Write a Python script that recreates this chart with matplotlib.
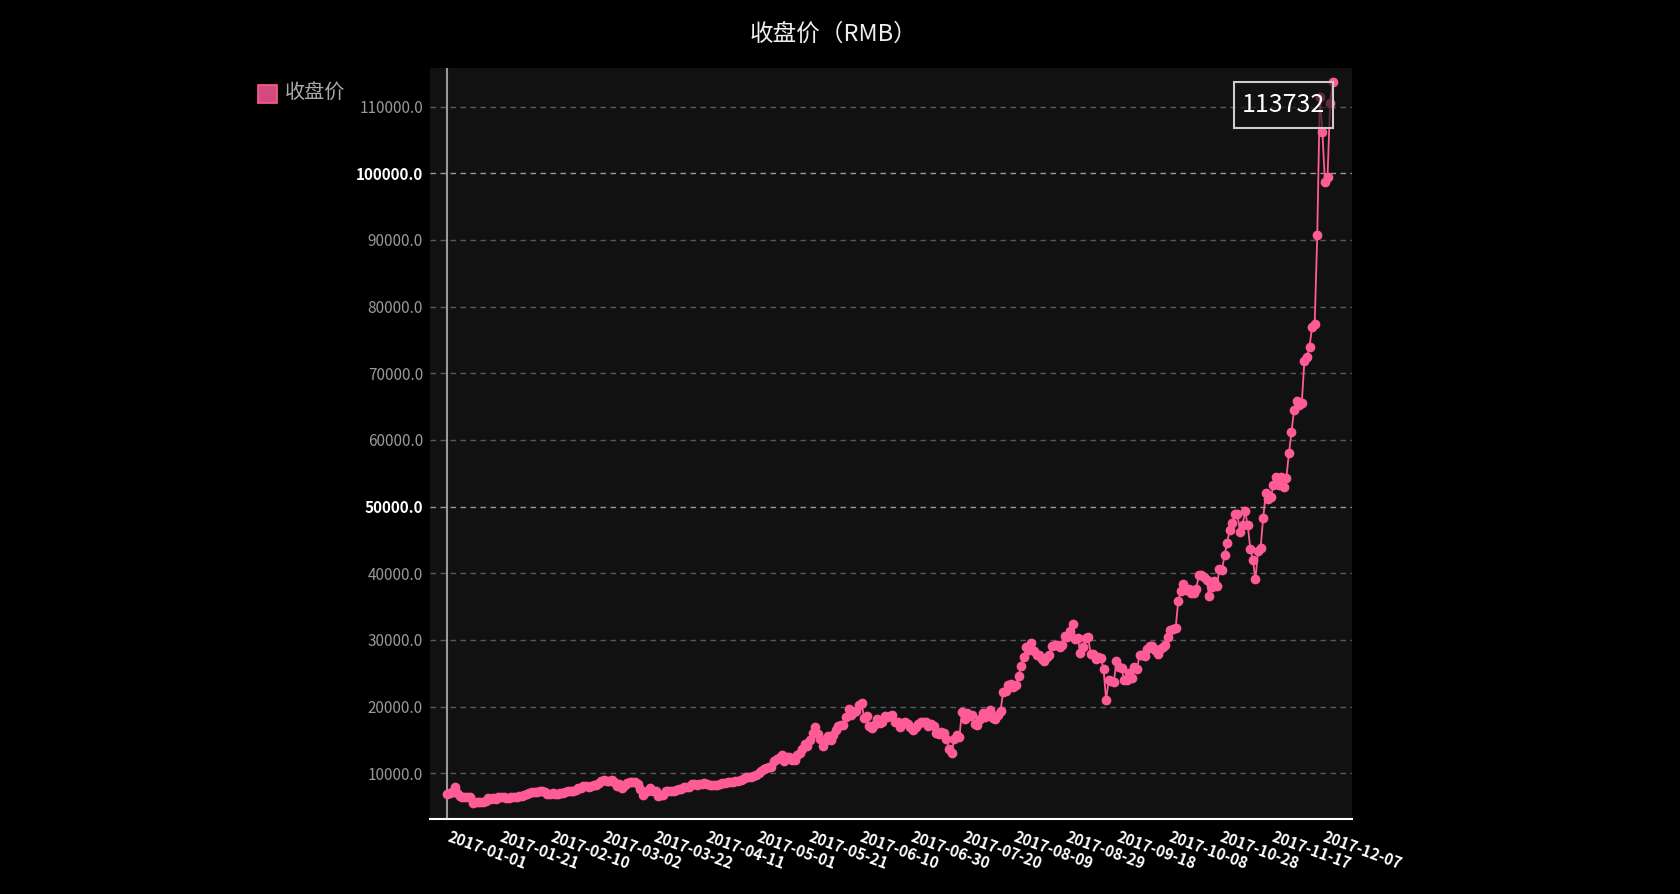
import matplotlib
matplotlib.use('Agg')
import matplotlib.pyplot as plt
import matplotlib.transforms as mtransforms
from matplotlib.patches import Rectangle
import pandas as pd

# 收盘价 (RMB), one list per month, 2017-01-01 .. 2017-12-11
jan = [6950, 7100, 7250, 8000, 7050, 6650, 6450, 6500, 6400, 6450,
       5550, 5650, 5750, 5700, 5750, 5850, 6250, 6150, 6250, 6200,
       6400, 6450, 6400, 6250, 6250, 6400, 6450, 6500, 6550, 6600, 6800]
feb = [6950, 7050, 7150, 7250, 7200, 7300, 7350, 7200, 6900, 6950,
       7000, 6950, 6950, 7050, 7050, 7200, 7300, 7400, 7350, 7550,
       7800, 7800, 8150, 8150, 8000, 8150, 8250, 8300]
mar = [8550, 8800, 9000, 8850, 8900, 8950, 8650, 8100, 8350, 7800,
       8250, 8550, 8650, 8700, 8750, 8350, 7700, 6800, 7250, 7400,
       7800, 7350, 7300, 6600, 6800, 6800, 7300, 7350, 7300, 7300, 7550]
apr = [7600, 7650, 8000, 8000, 7950, 8350, 8350, 8300, 8450, 8450,
       8550, 8450, 8200, 8250, 8300, 8300, 8450, 8500, 8600, 8700,
       8750, 8700, 8800, 8850, 9000, 9200, 9450, 9400, 9500, 9550]
may = [9800, 10050, 10300, 10600, 10750, 10900, 11000, 11900, 12100, 12350,
       12750, 11900, 12400, 12500, 12000, 11950, 12700, 13050, 13700, 14400,
       14100, 15000, 16000, 16900, 15900, 15200, 14100, 14900, 15600, 15000, 15800]
jun = [16500, 17050, 17250, 17200, 18400, 19600, 18700, 19200, 19350, 20200,
       20600, 18300, 18600, 17100, 16800, 17250, 18200, 17500, 17750, 18650,
       18450, 18550, 18800, 17750, 17750, 17000, 17500, 17650, 17400, 17000]
jul = [16550, 17000, 17400, 17650, 17650, 17700, 17100, 17450, 17100, 16100,
       15850, 16250, 16000, 15100, 13600, 13100, 15150, 15700, 15450, 19200,
       18100, 19100, 18550, 18700, 17450, 17200, 18150, 19050, 18500, 18700, 19450]
aug = [18300, 18200, 18800, 19400, 22200, 22300, 23300, 23400, 22900, 23200,
       24600, 26100, 27500, 29000, 28500, 29500, 28300, 27800, 27700, 27100,
       26800, 27500, 27800, 29100, 29200, 29200, 29000, 29300, 30600, 30500, 31300]
sep = [32400, 30200, 30300, 28000, 28900, 30300, 30400, 27900, 27900, 27200,
       27500, 27300, 25600, 21000, 24000, 23900, 23700, 26800, 25900, 25800,
       24000, 24000, 25000, 24300, 25900, 25700, 27800, 27700, 27600, 28600]
oct_ = [29100, 29100, 28500, 27900, 28600, 28900, 29200, 30400, 31500, 31600,
        31800, 35800, 37300, 38400, 37500, 37700, 37000, 37000, 37700, 39700,
        39800, 39500, 39000, 36600, 38000, 38900, 38100, 40600, 40500, 42700, 44600]
nov = [46500, 47500, 48900, 48900, 46200, 47300, 49300, 47200, 43700, 42000,
       39100, 43300, 43800, 48300, 52000, 51200, 51500, 53200, 54500, 53300,
       54500, 52900, 54300, 58000, 61200, 64500, 65800, 65300, 65600, 71800]
dec = [72400, 74000, 76900, 77400, 90700, 111500, 106200, 98700, 99500, 110600, 113732]

close = jan + feb + mar + apr + may + jun + jul + aug + sep + oct_ + nov + dec
start_date = '2017-01-01'
label_step = 20
y_ticks = list(range(10000, 110001, 10000))
y_highlight = [50000, 100000]

PINK = '#ff5b96'

plt.rcParams['font.family'] = ['Noto Sans CJK SC', 'DejaVu Sans']


def plot_close_price(output_path='out.png'):
    """
    收盘价折线图
    """
    dates = pd.date_range(start_date, periods=len(close), freq='D')
    labels = dates.strftime('%Y-%m-%d')
    x = list(range(len(close)))

    W, H = 1680, 894
    fig = plt.figure(figsize=(W / 100, H / 100), dpi=100, facecolor='black')
    ax = fig.add_axes([430 / W, (H - 819) / H, 922 / W, 751 / H])
    ax.set_facecolor('#111111')

    # grid
    for v in y_ticks:
        c = '#9a9a9a' if v in y_highlight else '#5a5a5a'
        ax.axhline(v, color=c, lw=1, ls=(0, (4, 3.2)), zorder=1)
    ax.axvline(0, color='#9a9a9a', lw=1.5, zorder=2)

    ax.plot(x, close, color=PINK, lw=1.3, marker='o', ms=6,
            mec=PINK, mfc=PINK, zorder=3)

    ax.set_xlim(-6.6, 351.5)
    ax.set_ylim(3150, 115800)

    for side in ['top', 'right', 'left']:
        ax.spines[side].set_visible(False)
    ax.spines['bottom'].set_color('white')
    ax.spines['bottom'].set_linewidth(1.5)

    ax.set_yticks(y_ticks)
    ax.set_yticklabels([f'{v:.1f}' for v in y_ticks])
    ax.tick_params(axis='y', length=0, pad=5, labelsize=11, labelcolor='#999999')
    for v, lbl in zip(y_ticks, ax.get_yticklabels()):
        if v in y_highlight:
            lbl.set_color('white')
            lbl.set_fontweight('bold')

    xt = x[::label_step]
    ax.set_xticks(xt)
    ax.set_xticklabels(labels[::label_step], rotation=-20, ha='left', va='top',
                       rotation_mode='anchor', fontweight='bold', color='white',
                       fontsize=11)
    ax.tick_params(axis='x', length=0, pad=7)
    nudge = mtransforms.ScaledTranslation(4 / 100, 0, fig.dpi_scale_trans)
    for lbl in ax.get_xticklabels():
        lbl.set_transform(lbl.get_transform() + nudge)

    # title
    fig.text(0.496, 1 - 34 / H, '收盘价（RMB）', color='#eeeeee', fontsize=17,
             ha='center', va='center')

    # legend
    fig.patches.append(Rectangle((258 / W, 1 - 103 / H), 18.5 / W, 18 / H,
                                 transform=fig.transFigure, facecolor='#d24a7e',
                                 edgecolor=PINK, lw=1.2))
    fig.text(285 / W, 1 - 93 / H, '收盘价', color='#aaaaaa', fontsize=14.5,
             va='center', ha='left')

    # max label box, top-right corner on the max point
    imax = close.index(max(close))
    box_tr = fig.dpi_scale_trans + mtransforms.ScaledTranslation(
        imax, close[imax], ax.transData)
    bw, bh = 0.99, 0.466
    ax.add_patch(Rectangle((-bw, -bh), bw, bh, transform=box_tr,
                           facecolor=(0.067, 0.067, 0.067, 0.65),
                           edgecolor='#cccccc', lw=1.5, zorder=4, clip_on=False))
    ax.text(-bw / 2, -bh / 2, f'{close[imax]}', transform=box_tr, color='white',
            fontsize=18, ha='center', va='center', zorder=5)

    fig.savefig(output_path, dpi=100, facecolor='black')
    plt.close(fig)
    print(f"✓ saved: {output_path}")


plot_close_price()
